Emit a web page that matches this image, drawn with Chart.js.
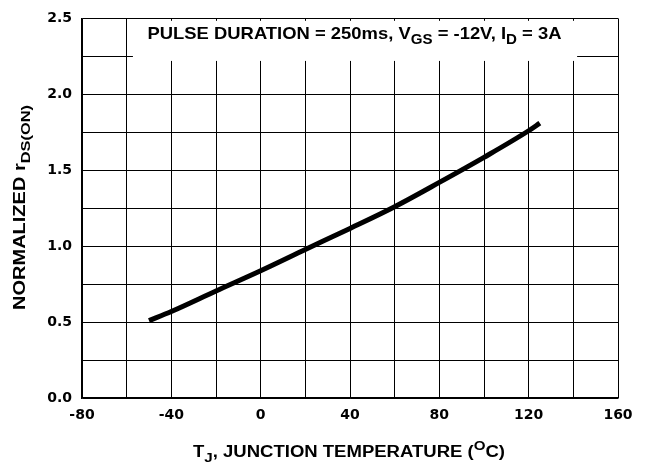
<!DOCTYPE html>
<html>
<head>
<meta charset="utf-8">
<script src="https://cdn.jsdelivr.net/npm/chart.js@4.4.1/dist/chart.umd.min.js"></script>
<style>
  html, body { margin: 0; padding: 0; background: #fff; }
  #wrap { width: 649px; height: 470px; }
</style>
</head>
<body>
<div id="wrap"><canvas id="chart" width="649" height="470"></canvas></div>
<script>
// Data
const temps = [-50, -40, -20, 0, 20, 40, 60, 80, 100, 120, 125];
const rdsOn = [0.51, 0.57, 0.705, 0.838, 0.978, 1.117, 1.26, 1.42, 1.585, 1.76, 1.81];

// Labelled ticks (grid runs every 20 / 0.25)
const xTickLabels = [-80, -40, 0, 40, 80, 120, 160];
const yTickLabels = [0, 0.5, 1.0, 1.5, 2.0, 2.5];

// Text with sub/superscripts: [text, 0=normal 1=sub 2=sup]
const noteParts = [['PULSE DURATION = 250ms, V', 0], ['GS', 1], [' = -12V, I', 0], ['D', 1], [' = 3A', 0]];
const xTitleParts = [['T', 0], ['J', 1], [', JUNCTION TEMPERATURE (', 0], ['O', 2], ['C)', 0]];
const yTitleParts = [['NORMALIZED r', 0], ['DS(ON)', 1]];

const FONT = '"Liberation Sans", Arial, sans-serif';

function partFont(size, mode) {
  const s = mode === 0 ? size : size * 0.82;
  return 'bold ' + s + 'px ' + FONT;
}

// draws centred rich text, squeezed/stretched to a given width
function drawRich(ctx, parts, size, width) {
  let natural = 0;
  parts.forEach(([t, m]) => {
    ctx.font = partFont(size, m);
    natural += ctx.measureText(t).width;
  });
  ctx.save();
  ctx.scale(width / natural, 1);
  let x = -natural / 2;
  ctx.textBaseline = 'alphabetic';
  ctx.textAlign = 'left';
  parts.forEach(([t, m]) => {
    ctx.font = partFont(size, m);
    const dy = m === 1 ? size * 0.32 : m === 2 ? -size * 0.42 : 0;
    ctx.fillText(t, x, dy);
    x += ctx.measureText(t).width;
  });
  ctx.restore();
}

const textPlugin = {
  id: 'textPlugin',
  beforeDatasetsDraw(chart) {
    const ctx = chart.ctx;
    const xs = chart.scales.x, ys = chart.scales.y;
    // white box behind the note, hiding grid
    const left = xs.getPixelForValue(-57.2), right = xs.getPixelForValue(141.7);
    const top = ys.getPixelForValue(2.484), bottom = ys.getPixelForValue(2.22);
    ctx.save();
    ctx.fillStyle = '#fff';
    ctx.fillRect(left, top, right - left, bottom - top);
    ctx.fillStyle = '#000';
    ctx.translate(354.5, 39);
    drawRich(ctx, noteParts, 17, 414);
    ctx.restore();
  },
  afterDraw(chart) {
    const ctx = chart.ctx;
    ctx.save();
    ctx.fillStyle = '#000';
    ctx.translate(349, 456.5);
    drawRich(ctx, xTitleParts, 16, 312);
    ctx.restore();

    ctx.save();
    ctx.fillStyle = '#000';
    ctx.translate(25, 207.5);
    ctx.rotate(-Math.PI / 2);
    drawRich(ctx, yTitleParts, 16, 205);
    ctx.restore();
  }
};

new Chart(document.getElementById('chart'), {
  type: 'line',
  data: {
    datasets: [{
      data: temps.map((t, i) => ({ x: t, y: rdsOn[i] })),
      borderColor: '#000',
      borderWidth: 5,
      borderCapStyle: 'butt',
      pointRadius: 0,
      cubicInterpolationMode: 'monotone',
      fill: false
    }]
  },
  options: {
    responsive: false,
    animation: false,
    layout: { padding: { top: 9, right: 31, left: 0, bottom: 0 } },
    plugins: { legend: { display: false }, tooltip: { enabled: false } },
    scales: {
      x: {
        type: 'linear',
        min: -80, max: 160,
        afterFit: (s) => { s.height = 72; },
        grid: { color: '#000', lineWidth: 1, drawTicks: false },
        border: { color: '#000', width: 1.5 },
        ticks: {
          stepSize: 20,
          padding: 9,
          color: '#000',
          font: { family: 'DejaVu Sans', weight: 'bold', size: 14 },
          maxRotation: 0,
          autoSkip: false,
          callback: (v) => xTickLabels.includes(v) ? String(v) : ''
        }
      },
      y: {
        min: 0, max: 2.5,
        afterFit: (s) => { s.width = 82; },
        grid: { color: '#000', lineWidth: 1, drawTicks: false },
        border: { color: '#000', width: 1.5 },
        ticks: {
          stepSize: 0.25,
          padding: 10,
          color: '#000',
          font: { family: 'DejaVu Sans', weight: 'bold', size: 14 },
          autoSkip: false,
          callback: (v) => yTickLabels.includes(v) ? v.toFixed(1) : ''
        }
      }
    }
  },
  plugins: [textPlugin]
});
</script>
</body>
</html>
